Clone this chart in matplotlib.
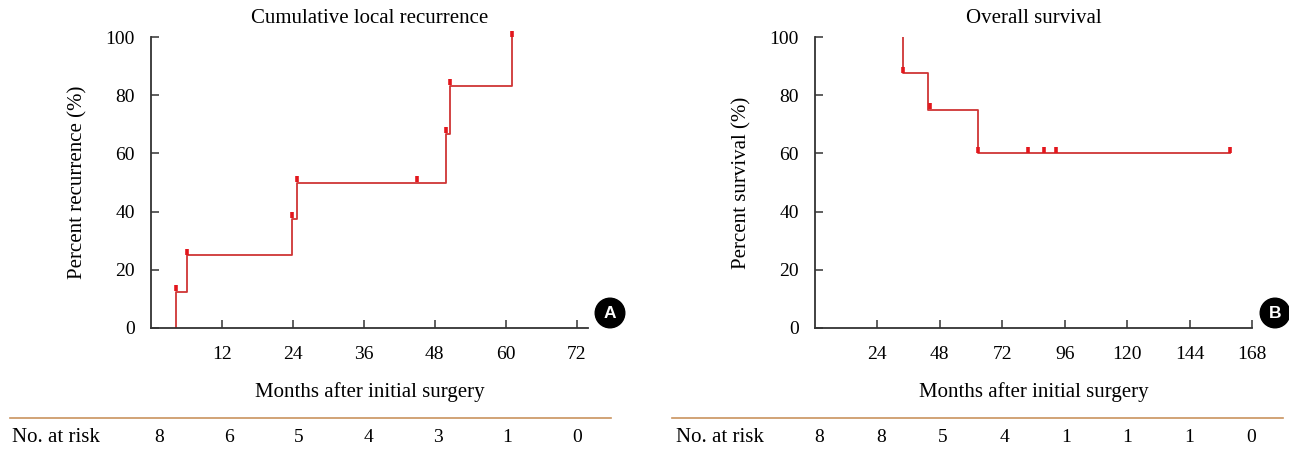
import numpy as np
import matplotlib
matplotlib.use("Agg")
import matplotlib.pyplot as plt
from matplotlib.transforms import offset_copy

plt.rcParams['font.family'] = ['Liberation Serif', 'DejaVu Serif']
plt.rcParams['font.size'] = 14

# Panel A - cumulative local recurrence (step curve)
rec_months = [4.3, 6.1, 23.9, 24.7, 49.9, 50.6, 61.1]
rec_pct = [12.5, 25.0, 37.5, 50.0, 66.7, 83.3, 100.0]
rec_cens = [4.3, 6.1, 23.9, 24.7, 45.0, 49.9, 50.6, 61.1]
rec_ticks = [12, 24, 36, 48, 60, 72]
rec_risk = [8, 6, 5, 4, 3, 1, 0]

# Panel B - overall survival
os_months = [33.7, 43.6, 62.7, 159.5]
os_pct = [87.5, 75.0, 60.0, 60.0]
os_cens = [33.7, 44.1, 62.7, 81.9, 88.0, 92.6, 159.5]
os_ticks = [24, 48, 72, 96, 120, 144, 168]
os_risk = [8, 8, 5, 4, 1, 1, 1, 0]

W, H = 1289, 454
fig = plt.figure(figsize=(W / 100, H / 100), dpi=100)

line_col = '#cf3535'
mark_col = '#e3161c'
axis_col = '#333333'
TXT = 15
NUM = 14


def step_value(t, times, vals, start):
    i = np.searchsorted(times, t, side='right') - 1
    return start if i < 0 else vals[i]


def panel(left_px, right_px, xmax, times, vals, start, cens, ticks,
          title, ylabel, ylab_px, badge):
    ax = fig.add_axes([left_px / W, (H - 328) / H,
                       (right_px - left_px) / W, (328 - 37) / H])
    x = [times[0]] + list(times)
    y = [start] + list(vals)
    ax.step(x, y, where='post', color=line_col, lw=1.3)
    cy = [step_value(t, times, vals, start) for t in cens]
    tr = offset_copy(ax.transData, fig=fig, x=0, y=2.5, units='points')
    ax.plot(cens, cy, ls='none', marker='|', ms=5, mew=2.6,
            color=mark_col, transform=tr, clip_on=False)
    ax.set_xlim(0, xmax)
    ax.set_ylim(0, 100)
    ax.set_xticks(ticks)
    ax.set_yticks([0, 20, 40, 60, 80, 100])
    for s in ['top', 'right']:
        ax.spines[s].set_visible(False)
    for s in ['left', 'bottom']:
        ax.spines[s].set_color(axis_col)
        ax.spines[s].set_linewidth(1.3)
    ax.tick_params(axis='x', direction='in', length=6, width=1.1,
                   color=axis_col, pad=13, labelsize=NUM)
    ax.tick_params(axis='y', direction='in', length=6, width=1.1,
                   color=axis_col, pad=11.5, labelsize=NUM)
    ax.set_xlabel('Months after initial surgery', fontsize=TXT)
    ax.xaxis.set_label_coords(0.5, (328 - 392) / 291, transform=ax.transAxes)
    ax.xaxis.label.set_va('center')
    ax.set_ylabel(ylabel, fontsize=TXT)
    ax.yaxis.set_label_coords((ylab_px - left_px) / (right_px - left_px), 0.5)
    ax.yaxis.label.set_va('center')
    ax.text(0.5, (328 - 18) / 291, title, transform=ax.transAxes,
            ha='center', va='center', fontsize=TXT)
    bx = badge[1]
    fig.text(bx / W, 1 - 313 / H, badge[0], ha='center', va='center',
             color='white', fontsize=12.5, fontweight='bold',
             family=['Liberation Sans', 'DejaVu Sans'],
             bbox=dict(boxstyle='circle,pad=0.42', fc='black', ec='black'))
    return ax


panel(151, 588, 73.9, rec_months, rec_pct, 0.0, rec_cens, rec_ticks,
      'Cumulative local recurrence', 'Percent recurrence (%)', 78, ('A', 610))
panel(815, 1252, 168, os_months, os_pct, 100.0, os_cens, os_ticks,
      'Overall survival', 'Percent survival (%)', 742, ('B', 1275))


def risk_row(x0, x1, label_x, first_x, last_x, counts):
    fig.add_artist(plt.Line2D([x0 / W, x1 / W], [1 - 418 / H, 1 - 418 / H],
                              transform=fig.transFigure, color='#c9935f', lw=1.2))
    yy = 1 - 437 / H
    fig.text(label_x / W, yy, 'No. at risk', ha='left', va='center', fontsize=TXT)
    xs = np.linspace(first_x, last_x, len(counts))
    for xp, n in zip(xs, counts):
        fig.text(xp / W, yy, str(n), ha='center', va='center', fontsize=NUM)


risk_row(10, 611, 12, 159, 577, rec_risk)
risk_row(672, 1283, 676, 819, 1251, os_risk)

fig.savefig('out.png', dpi=100)
